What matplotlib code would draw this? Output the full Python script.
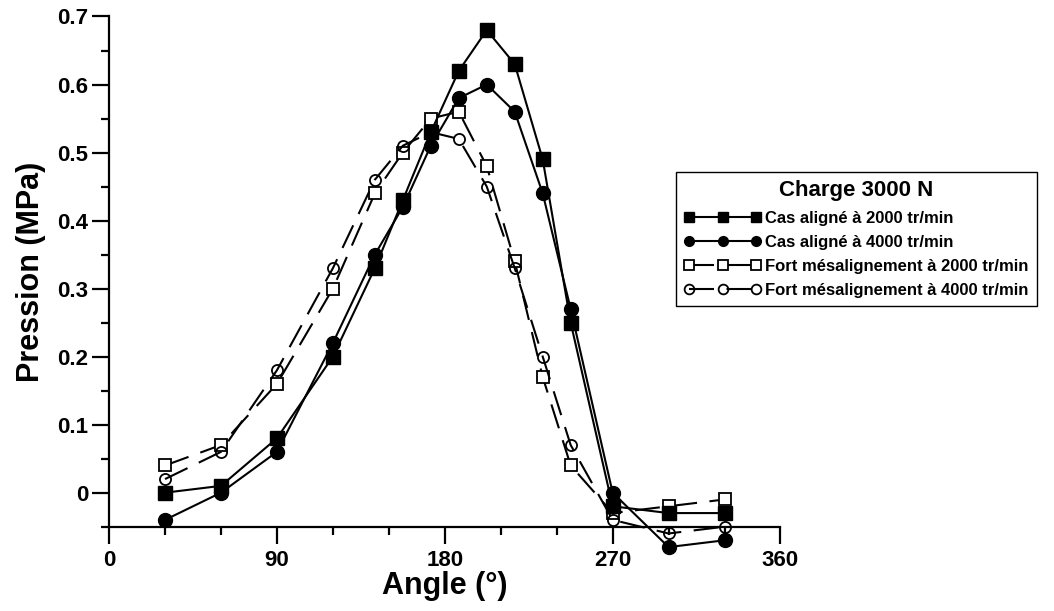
import matplotlib
matplotlib.use("Agg")
import matplotlib.pyplot as plt
from matplotlib.ticker import MultipleLocator, FuncFormatter

# angles (deg) of the measurement points
angles = [30, 60, 90, 120, 142.5, 157.5, 172.5, 187.5, 202.5, 217.5, 232.5, 247.5, 270, 300, 330]

aligned_2000 = [0.0, 0.01, 0.08, 0.20, 0.33, 0.43, 0.53, 0.62, 0.68, 0.63, 0.49, 0.25, -0.02, -0.03, -0.03]
aligned_4000 = [-0.04, 0.0, 0.06, 0.22, 0.35, 0.42, 0.51, 0.58, 0.60, 0.56, 0.44, 0.27, 0.0, -0.08, -0.07]
misal_2000 = [0.04, 0.07, 0.16, 0.30, 0.44, 0.50, 0.55, 0.56, 0.48, 0.34, 0.17, 0.04, -0.03, -0.02, -0.01]
misal_4000 = [0.02, 0.06, 0.18, 0.33, 0.46, 0.51, 0.53, 0.52, 0.45, 0.33, 0.20, 0.07, -0.04, -0.06, -0.05]

labels = ["Cas aligné à 2000 tr/min", "Cas aligné à 4000 tr/min",
          "Fort mésalignement à 2000 tr/min", "Fort mésalignement à 4000 tr/min"]

plt.rcParams["font.family"] = ["Liberation Sans", "DejaVu Sans"]
plt.rcParams["font.weight"] = "bold"

fig = plt.figure(figsize=(10.54, 6.11), dpi=100)
ax = fig.add_axes([0.1035, 0.138, 0.637, 0.835])

dash = (0, (12, 6))
ax.plot(angles, misal_2000, color="black", lw=1.5, ls=dash, marker="s", ms=8,
        mfc="white", mec="black", mew=1.3, label=labels[2], zorder=2)
ax.plot(angles, misal_4000, color="black", lw=1.5, ls=dash, marker="o", ms=8,
        mfc="none", mec="black", mew=1.3, label=labels[3], zorder=2)
ax.plot(angles, aligned_2000, color="black", lw=1.5, marker="s", ms=10,
        mfc="black", mec="black", label=labels[0], zorder=3)
ax.plot(angles, aligned_4000, color="black", lw=1.5, marker="o", ms=10,
        mfc="black", mec="black", label=labels[1], zorder=3)

ax.set_xlim(0, 360)
ax.set_ylim(-0.05, 0.7)
ax.xaxis.set_major_locator(MultipleLocator(90))
ax.xaxis.set_minor_locator(MultipleLocator(30))
ax.yaxis.set_major_locator(MultipleLocator(0.1))
ax.yaxis.set_minor_locator(MultipleLocator(0.05))
ax.yaxis.set_major_formatter(FuncFormatter(lambda v, p: "%g" % round(v, 2)))

for s in ["top", "right"]:
    ax.spines[s].set_visible(False)
for s in ["left", "bottom"]:
    ax.spines[s].set_linewidth(1.6)
ax.tick_params(which="major", length=12, width=1.6, labelsize=16, pad=3)
ax.tick_params(which="minor", length=6, width=1.6)
ax.tick_params(axis="x", which="major", pad=5)
for ln in ax.lines:
    ln.set_clip_on(False)

ax.set_xlabel("Angle (°)", fontsize=22, fontweight="bold", labelpad=0)
ax.set_ylabel("Pression (MPa)", fontsize=22, fontweight="bold", labelpad=8)

handles, labs = ax.get_legend_handles_labels()
order = [2, 3, 0, 1]
leg = fig.legend([handles[i] for i in order], [labs[i] for i in order],
                 title="Charge 3000 N", loc="upper left",
                 bbox_to_anchor=(676 / 1054, 1 - 172 / 611),
                 numpoints=3, handlelength=4.6, handletextpad=0.25,
                 labelspacing=0.55, borderpad=0.5, borderaxespad=0,
                 fancybox=False, edgecolor="black", framealpha=1,
                 prop={"family": ["Liberation Sans Narrow", "Liberation Sans"],
                       "weight": "bold", "size": 12})
leg.get_title().set_fontfamily(["Liberation Sans Narrow", "Liberation Sans"])
leg.get_title().set_fontweight("bold")
leg.get_title().set_fontsize(16)
leg.get_frame().set_linewidth(1.0)
for h in leg.legend_handles:
    h.set_markersize(7)

fig.savefig("out.png", dpi=100)
